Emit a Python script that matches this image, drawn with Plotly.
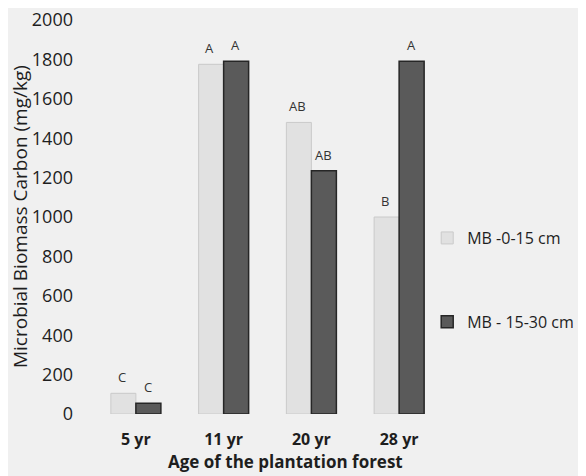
import plotly.graph_objects as go

categories = ["5 yr", "11 yr", "20 yr", "28 yr"]
mb_0_15 = [105, 1775, 1480, 1000]
mb_15_30 = [55, 1790, 1235, 1790]
letters_0_15 = ["C", "A", "AB", "B"]
letters_15_30 = ["C", "A", "AB", "A"]
y_ticks = [0, 200, 400, 600, 800, 1000, 1200, 1400, 1600, 1800, 2000]

FONT = "Open Sans"
bg = "#f0f0f0"
txt = "#1e1e1e"

fig = go.Figure()
fig.add_trace(go.Bar(
    x=categories, y=mb_0_15, name="MB -0-15 cm", legendgroup="a",
    marker=dict(color="#e1e1e1", line=dict(color="#cacaca", width=1)),
))
fig.add_trace(go.Bar(
    x=categories, y=mb_15_30, name="MB - 15-30 cm", legendgroup="b",
    marker=dict(color="#5a5a5a", line=dict(color="#262626", width=1.5)),
))

for i, c in enumerate(categories):
    fig.add_annotation(x=c, y=mb_0_15[i], text=letters_0_15[i], xref="x", yref="y",
                       xshift=-14, yshift=5, yanchor="bottom", showarrow=False,
                       font=dict(family=FONT, size=13, color="#333333"))
    fig.add_annotation(x=c, y=mb_15_30[i], text=letters_15_30[i], xref="x", yref="y",
                       xshift=12, yshift=5, yanchor="bottom", showarrow=False,
                       font=dict(family=FONT, size=13, color="#333333"))

# axis titles
fig.add_annotation(x=0.55, y=0, xref="paper", yref="paper", yshift=-47,
                   text="<b>Age of the plantation forest</b>", showarrow=False,
                   xanchor="center", yanchor="middle",
                   font=dict(family=FONT, size=17, color=txt))
fig.add_annotation(x=-0.205, y=0.5, xref="paper", yref="paper",
                   text="Microbial Biomass Carbon (mg/kg)", showarrow=False,
                   textangle=-90, xanchor="center", yanchor="middle",
                   font=dict(family=FONT, size=19, color=txt))

fig.update_layout(
    width=578, height=468,
    margin=dict(l=84, r=143, t=12, b=62, autoexpand=False),
    paper_bgcolor=bg, plot_bgcolor=bg,
    barmode="group", bargap=0.43, bargroupgap=0.0,
    font=dict(family=FONT, color=txt),
    showlegend=True,
    legend=dict(x=0.955, y=0.34, xanchor="left", yanchor="middle",
                font=dict(family=FONT, size=16, color=txt),
                tracegroupgap=60, bgcolor="rgba(0,0,0,0)", itemwidth=30),
    xaxis=dict(showgrid=False, showline=False, zeroline=False, ticks="",
               ticklabelstandoff=14,
               tickfont=dict(family=FONT, size=16, color=txt, weight="bold")),
    yaxis=dict(range=[0, 2000], tickvals=y_ticks, showgrid=False, showline=False,
               zeroline=False, ticks="", ticklabelstandoff=18,
               ticklabeloverflow="allow",
               tickfont=dict(family=FONT, size=18, color=txt)),
)

fig.write_html("out.html")
